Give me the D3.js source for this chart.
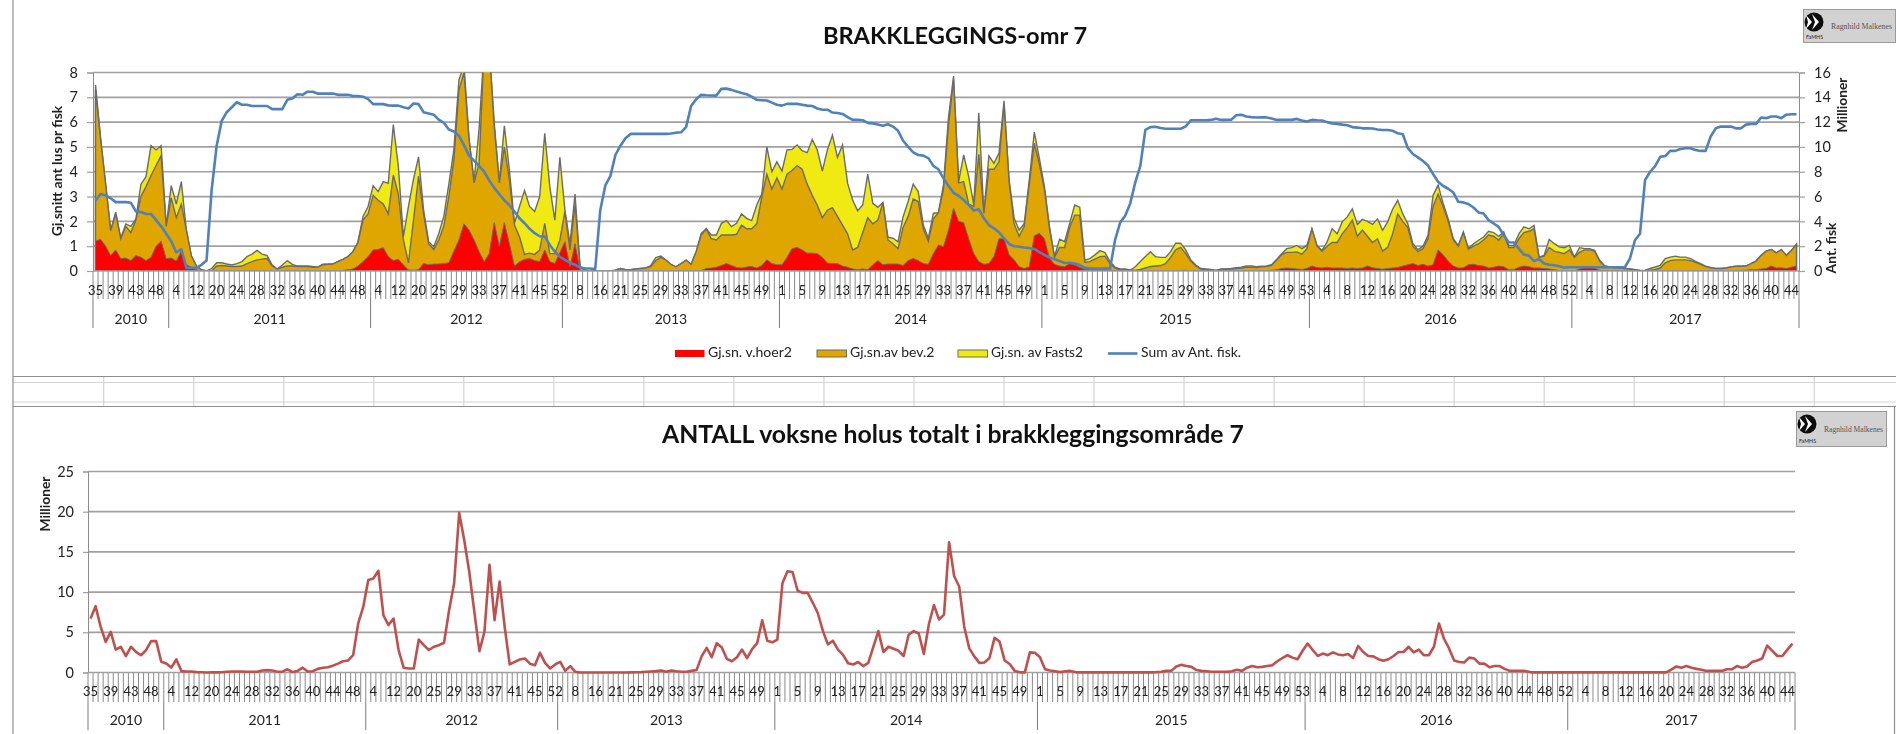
<!DOCTYPE html>
<html>
<head>
<meta charset="utf-8">
<script src="https://cdn.jsdelivr.net/npm/d3@7/dist/d3.min.js"></script>
<style>
  html, body { margin: 0; padding: 0; background: #fff; }
  svg { display: block; filter: blur(0.5px); }
  text { font-family: Lato, "Open Sans", sans-serif; fill: #222; }
</style>
</head>
<body>
<script>
// values, one per week, 338 weeks from 2010 week 35
var years = ['2010', '2011', '2012', '2013', '2014', '2015', '2016', '2017'];
var yearStarts = [0, 15, 55, 93, 136, 188, 241, 293];

// every 4th week carries a label
var weekLabels = [
  35, 39, 43, 48,
  4, 12, 20, 24, 28, 32, 36, 40, 44, 48,
  4, 12, 20, 25, 29, 33, 37, 41, 45, 52,
  8, 16, 21, 25, 29, 33, 37, 41, 45, 49,
  1, 5, 9, 13, 17, 21, 25, 29, 33, 37, 41, 45, 49,
  1, 5, 9, 13, 17, 21, 25, 29, 33, 37, 41, 45, 49, 53,
  4, 8, 12, 16, 20, 24, 28, 32, 36, 40, 44, 48, 52,
  4, 8, 12, 16, 20, 24, 28, 32, 36, 40, 44
];

// height of each outline in the lice chart
var vhoer = [
  1.2,1.28,1.0,.62,.85,.5,.52,.42,.62,.55,
  .42,.55,1.0,1.2,.5,.52,.4,.8,.25,.15,
  .05,0,0,0,0,0,0,0,0,0,
  0,0,0,0,.02,.02,0,0,.03,.02,
  0,0,.03,0,0,0,0,0,0,.02,
  .05,.08,.2,.38,.58,.85,.87,.94,.58,.42,
  .47,.24,.04,.03,.05,.3,.25,.28,.28,.3,
  .33,.8,1.25,1.9,1.65,1.25,.78,.37,.7,1.95,
  1.0,1.95,1.1,.2,.37,.47,.5,.42,.38,.85,
  .38,.3,.74,1.18,.17,1.1,.03,0,0,0,
  0,0,0,0,0,0,0,0,0,0,
  0,0,0,0,0,0,0,0,0,0,
  .02,.1,.12,.15,.22,.3,.22,.14,.12,.16,
  .18,.12,.22,.45,.3,.25,.25,.55,.9,.95,
  .85,.72,.72,.7,.55,.32,.3,.3,.2,.15,
  .08,.05,.08,.05,.25,.42,.25,.28,.28,.28,
  .22,.42,.5,.42,.3,.27,.7,1.05,.98,1.65,
  2.53,2.0,1.95,1.3,.7,.38,.27,.3,.58,1.3,
  1.3,.65,.45,.17,.1,.17,1.42,1.52,1.3,.5,
  .27,.2,.17,.3,.24,.15,.07,.05,.05,.05,
  .05,.03,.02,0,0,0,0,0,0,0,
  0,0,0,0,0,.02,.03,0,0,0,
  0,0,0,0,0,0,0,.02,.02,0,
  0,0,.02,.03,.05,.1,.12,.1,.08,.06,
  .1,.2,.14,.12,.15,.12,.12,.12,.1,.12,
  .1,.12,.2,.13,.1,.07,.1,.12,.14,.2,
  .25,.3,.22,.27,.2,.25,.85,.65,.4,.2,
  .12,.13,.25,.27,.22,.2,.12,.15,.2,.17,
  .05,.05,.15,.2,.17,.12,.12,.1,.08,.05,
  .02,0,0,0,.08,.15,.15,.12,.03,0,
  0,0,0,0,0,0,0,0,0,0,
  0,0,0,0,0,0,.02,.02,0,0,
  0,0,0,0,0,0,.02,.03,.05,.05,
  .08,.1,.2,.12,.13,.1,.15,.2
];

var bev = [
  7.3,5.3,3.5,1.63,2.3,1.3,1.8,1.55,2.05,3.0,
  3.4,3.85,4.25,4.65,1.8,2.95,2.15,2.7,1.65,.6,
  .2,.05,0,0,.2,.22,.2,.18,.18,.2,
  .3,.38,.45,.48,.5,.2,.08,.15,.2,.2,
  .18,.18,.18,.15,.15,.25,.27,.28,.38,.47,
  .58,.78,1.15,2.05,2.3,3.05,2.85,2.7,2.3,3.87,
  3.1,1.25,.33,2.05,3.83,2.3,1.1,.87,1.25,1.8,
  3.0,4.47,7.3,8.0,5.3,3.55,4.35,9,9,5.8,
  3.55,5.0,3.67,1.85,1.38,.67,.72,.67,.85,1.92,
  .7,.7,1.25,2.4,.85,2.7,.17,.03,0,0,
  0,0,0,.03,.1,.05,.05,.08,.1,.12,
  .18,.42,.55,.44,.27,.17,.3,.44,.27,.78,
  1.45,1.7,1.3,1.25,1.45,1.45,1.45,1.48,1.85,1.7,
  1.7,1.9,2.98,3.9,3.3,3.75,3.3,3.9,4.05,4.25,
  4.1,3.5,3.05,2.65,2.15,2.45,2.55,2.2,1.85,1.5,
  .85,.95,1.55,2.15,1.9,2.05,2.76,1.25,1.1,.9,
  1.75,2.2,2.9,2.8,1.7,1.2,2.1,2.35,3.3,5.9,
  7.7,3.55,3.6,2.7,2.6,4.7,2.33,4.1,4.1,4.4,
  6.7,3.6,1.9,1.4,1.8,3.5,5.15,4.3,3.3,1.7,
  .55,.95,.95,1.75,2.25,2.25,.35,.38,.48,.58,
  .6,.3,.12,.05,.05,.03,.03,.06,.12,.18,
  .2,.22,.3,.55,.85,.95,.7,.4,.2,.08,
  .06,.05,.02,.06,.07,.08,.1,.12,.15,.15,
  .14,.17,.18,.23,.44,.66,.75,.75,.77,.68,
  .9,1.7,1.0,.8,1.0,1.15,1.15,1.5,1.75,2.05,
  1.4,1.65,1.4,1.15,1.3,.8,.95,1.5,2.3,2.0,
  1.75,1.0,.78,.9,1.3,2.6,3.1,2.6,2.0,1.25,
  1.0,1.55,.88,1.0,1.1,1.25,1.45,1.4,1.25,1.5,
  .95,.95,1.3,1.55,1.6,1.7,.55,.6,.95,.8,
  .75,.7,.85,.55,.75,.85,.85,.8,.4,.2,
  .16,.14,.12,.1,.08,.05,.02,.01,.03,.06,
  .12,.33,.42,.45,.45,.45,.42,.35,.27,.18,
  .13,.1,.1,.12,.16,.19,.19,.2,.3,.4,
  .63,.8,.87,.73,.86,.63,.83,1.08
];

var fasts = [
  7.5,5.4,3.5,1.63,2.37,1.32,1.9,1.8,2.1,3.5,
  3.8,5.05,4.88,5.05,1.8,3.44,2.7,3.6,1.65,.6,
  .2,.05,0,.1,.33,.33,.28,.24,.3,.38,
  .58,.68,.83,.68,.62,.24,.08,.24,.42,.27,
  .2,.2,.2,.18,.15,.27,.27,.28,.38,.47,
  .58,.78,1.18,2.2,2.6,3.44,3.2,3.6,3.53,5.9,
  4.2,1.38,2.6,3.7,4.6,2.45,1.18,.98,1.5,2.2,
  3.5,4.9,7.7,8.3,5.35,3.6,5.75,9,9,5.95,
  3.55,5.85,4.07,1.92,2.6,3.24,2.6,2.4,3.0,5.55,
  3.4,2.05,4.58,2.45,1.1,3.1,.17,.03,0,0,
  0,0,0,.03,.1,.05,.05,.08,.1,.12,
  .22,.54,.6,.44,.27,.17,.3,.44,.27,.78,
  1.52,1.7,1.45,1.45,1.92,2.03,1.79,1.92,2.3,2.12,
  2.03,2.66,3.1,5.0,4.0,4.4,4.03,4.88,4.9,5.08,
  4.85,4.77,5.3,4.88,4.03,4.88,5.48,4.58,5.08,3.54,
  2.86,2.43,2.66,3.9,2.73,2.57,2.76,1.36,1.32,1.18,
  2.19,2.8,3.5,3.2,1.85,1.32,2.33,2.35,3.47,6.2,
  7.86,3.6,4.68,3.8,2.66,6.38,2.33,4.64,4.34,4.75,
  6.86,3.67,2.12,1.65,1.92,3.67,5.6,4.54,3.4,1.79,
  .58,1.28,1.18,1.92,2.66,2.57,.44,.5,.65,.82,
  .74,.38,.15,.08,.08,.04,.17,.38,.58,.78,
  .58,.55,.55,.78,1.12,1.12,.85,.44,.24,.1,
  .08,.06,.02,.08,.08,.1,.13,.15,.2,.2,
  .17,.19,.2,.25,.46,.7,.9,.94,1.03,.9,
  1.03,1.7,1.03,.83,1.17,1.7,1.5,1.98,2.18,2.5,
  1.88,2.08,2.0,1.88,2.1,1.64,1.98,2.5,2.85,2.3,
  1.9,1.1,.86,1.0,1.44,3.05,3.46,2.72,2.1,1.3,
  1.03,1.57,.9,1.1,1.24,1.37,1.6,1.55,1.4,1.57,
  1.03,1.03,1.5,1.78,1.7,1.84,.56,.63,1.27,1.1,
  .97,.94,1.03,.56,.94,.9,.9,.83,.43,.2,
  .16,.14,.12,.1,.08,.05,.02,.03,.1,.16,
  .23,.5,.56,.6,.56,.56,.5,.39,.3,.2,
  .13,.1,.1,.12,.16,.19,.19,.2,.3,.4,
  .63,.8,.87,.73,.86,.63,.83,1.08
];

// millions of fish, right axis
var antFisk = [
  5.67,6.2,6.1,5.86,5.55,5.55,5.55,5.5,4.8,4.75,
  4.6,4.6,4.1,3.6,3.0,2.4,1.5,1.75,.25,.25,
  .25,.5,.85,6.5,10.1,12.1,12.8,13.2,13.6,13.4,
  13.4,13.3,13.3,13.3,13.3,13.05,13.05,13.05,13.8,13.9,
  14.25,14.2,14.45,14.45,14.3,14.3,14.3,14.3,14.2,14.2,
  14.2,14.1,14.1,14.05,13.85,13.45,13.45,13.45,13.35,13.33,
  13.33,13.2,13.1,13.5,13.45,12.8,12.7,12.6,12.2,11.95,
  11.4,11.25,10.9,10.15,9.3,8.9,8.47,8.0,7.3,6.7,
  6.2,5.7,5.3,4.8,4.25,3.85,3.4,3.05,2.8,2.77,
  2.1,1.55,1.15,.9,.67,.5,.3,.2,.2,.15,
  4.9,6.9,7.65,9.35,10.1,10.7,11.05,11.05,11.05,11.05,
  11.05,11.05,11.05,11.05,11.08,11.15,11.18,11.6,13.3,13.85,
  14.2,14.17,14.15,14.14,14.68,14.7,14.6,14.47,14.35,14.25,
  14.06,13.8,13.76,13.74,13.57,13.4,13.33,13.47,13.47,13.47,
  13.4,13.33,13.3,13.1,13.0,13.0,12.77,12.74,12.66,12.4,
  12.18,12.18,12.15,11.94,11.9,11.8,11.7,11.83,11.64,11.3,
  10.5,10.0,9.57,9.35,9.3,9.1,8.47,8.2,7.47,6.85,
  6.3,6.05,5.72,5.32,4.87,4.97,4.25,3.7,3.44,3.12,
  2.63,2.18,2.0,1.96,1.9,1.85,1.78,1.53,1.3,1.08,
  .94,.8,.65,.67,.6,.48,.27,.2,.2,.2,
  .2,.2,2.5,3.9,4.45,5.45,7.15,8.47,11.37,11.6,
  11.63,11.53,11.47,11.47,11.47,11.47,11.66,12.15,12.15,12.15,
  12.15,12.18,12.28,12.18,12.18,12.2,12.55,12.6,12.45,12.4,
  12.37,12.38,12.38,12.3,12.18,12.18,12.18,12.18,12.26,12.13,
  12.05,12.18,12.15,12.13,12.0,11.9,11.86,11.8,11.75,11.6,
  11.56,11.5,11.5,11.48,11.4,11.37,11.37,11.3,11.1,11.02,
  9.9,9.43,9.16,8.87,8.5,7.82,7.2,6.85,6.63,6.33,
  5.58,5.53,5.4,5.12,4.72,4.64,4.1,3.83,3.56,2.88,
  2.32,2.3,1.8,1.32,1.24,.8,.97,.6,.5,.46,
  .38,.27,.3,.3,.3,.3,.3,.3,.3,.3,
  .3,.3,.3,.3,1.0,2.48,3.0,7.33,8.0,8.46,
  9.2,9.27,9.68,9.68,9.84,9.9,9.9,9.76,9.68,9.68,
  10.84,11.5,11.64,11.64,11.64,11.5,11.5,11.8,11.86,11.86,
  12.37,12.32,12.45,12.45,12.32,12.6,12.64,12.64
];

// millions of adult female lice, lower chart
var holus = [
  6.7,8.25,5.7,3.8,5.05,2.85,3.2,2.03,3.2,2.57,
  2.15,2.78,3.9,3.9,1.33,1.12,.62,1.62,.17,.12,
  .12,.05,.03,0,.02,.02,.03,.1,.12,.12,
  .12,.1,.1,.1,.25,.3,.25,.1,.1,.4,
  .05,.2,.6,.12,.15,.45,.6,.65,.85,1.1,
  1.4,1.5,2.15,6.1,8.15,11.5,11.7,12.65,7.1,5.9,
  6.7,2.8,.6,.5,.5,4.1,3.4,2.8,3.2,3.4,
  3.7,7.75,11.1,19.85,16.45,12.5,7.55,2.65,5.05,13.4,
  6.5,11.3,5.7,1.0,1.33,1.62,1.75,1.1,.9,2.45,
  1.2,.5,1.0,1.33,.2,.8,.08,0,0,0,
  0,0,0,0,0,0,0,.02,.03,.05,
  .1,.13,.17,.25,.1,.25,.15,.1,.1,.2,
  .3,2.0,3.07,1.9,3.65,3.1,1.7,1.4,1.9,2.85,
  1.8,2.9,3.65,6.5,3.95,3.75,4.1,11.1,12.6,12.5,
  10.2,9.9,9.9,8.7,7.4,5.2,3.5,3.95,2.85,2.2,
  1.15,1.0,1.3,.8,1.2,3.2,5.15,2.55,3.2,2.95,
  2.7,2.05,4.7,5.15,4.85,2.3,6.0,8.4,6.6,7.2,
  16.2,12.0,10.7,5.7,3.0,2.0,1.2,1.25,1.8,4.3,
  3.85,1.5,1.05,.2,.02,.02,2.5,2.45,1.9,.4,
  .25,.15,.05,.15,.2,.05,.02,.02,.02,.02,
  .02,.02,.02,.02,.02,.02,.02,.02,.02,.02,
  .02,.05,.1,.2,.2,.75,.95,.8,.7,.3,
  .2,.15,.1,.1,.1,.08,.15,.33,.2,.6,
  .8,.65,.7,.8,.9,1.4,1.8,2.15,1.85,1.65,
  2.7,3.6,2.8,2.05,2.35,2.15,2.5,2.25,2.15,2.3,
  1.8,3.3,2.55,2.05,2.0,1.65,1.45,1.65,2.05,2.55,
  2.55,3.2,2.5,2.85,2.15,2.15,3.2,6.1,4.2,3.0,
  1.5,1.3,1.25,1.85,1.75,1.1,1.1,.65,.8,.8,
  .45,.2,.2,.2,.2,.05,.02,.02,.02,.02,
  .02,.02,.02,.02,.02,.02,.02,.02,.02,.02,
  .02,.02,.02,.02,.02,.02,.02,.02,.02,.02,
  .02,.02,.02,.35,.75,.6,.8,.6,.45,.35,
  .2,.2,.2,.2,.4,.4,.8,.6,.75,1.3,
  1.5,1.75,3.35,2.7,2.05,2.05,2.85,3.6
];

var leftTicks = [0, 1, 2, 3, 4, 5, 6, 7, 8];
var rightTicks = [0, 2, 4, 6, 8, 10, 12, 14, 16];
var lowerTicks = [0, 5, 10, 15, 20, 25];

var legendNames = ['Gj.sn. v.hoer2', 'Gj.sn.av bev.2', 'Gj.sn. av Fasts2', 'Sum av Ant. fisk.'];

var gridColor = '#a0a0a0';
var axisColor = '#8c8c8c';
var areaLine = '#6b6b6b';

var svg = d3.select('body').append('svg')
  .attr('width', 1896)
  .attr('height', 734);

var weeks = d3.range(holus.length);

function centerX(x) {
  return function(i) {
    return x(i) + x.bandwidth() / 2;
  };
}

function drawFrame() {
  var g = svg.append('g');
  // the sheet cells that show between the two charts
  g.selectAll('line.cell')
    .data(d3.range(0, 20))
    .enter().append('line')
    .attr('x1', function(d) { return 103.7 + d * 90.03; })
    .attr('x2', function(d) { return 103.7 + d * 90.03; })
    .attr('y1', 377)
    .attr('y2', 406)
    .attr('stroke', '#d4d4d4')
    .attr('stroke-width', 1.2);
  [382.5, 402].forEach(function(y) {
    g.append('line').attr('x1', 13).attr('x2', 1896).attr('y1', y).attr('y2', y)
      .attr('stroke', '#d4d4d4').attr('stroke-width', 1.2);
  });
  [376.5, 406.5].forEach(function(y) {
    g.append('line').attr('x1', 13).attr('x2', 1896).attr('y1', y).attr('y2', y)
      .attr('stroke', '#8f8f8f').attr('stroke-width', 1.2);
  });
  g.append('line').attr('x1', 13).attr('x2', 13).attr('y1', 0).attr('y2', 734)
    .attr('stroke', '#8f8f8f').attr('stroke-width', 1.2);
  g.append('line').attr('x1', 1894.5).attr('x2', 1894.5).attr('y1', 406).attr('y2', 734)
    .attr('stroke', '#8f8f8f').attr('stroke-width', 1.2);
}

function drawLogo(x, y, w, h) {
  var g = svg.append('g').attr('transform', 'translate(' + x + ',' + y + ')');
  g.append('rect')
    .attr('x', 0.5).attr('y', 0.5).attr('width', w).attr('height', h)
    .attr('fill', '#d2d2d2').attr('stroke', '#9a9a9a').attr('stroke-width', 1);
  g.append('circle').attr('cx', 11).attr('cy', 13).attr('r', 9.5).attr('fill', '#0c0c0c');
  g.append('path').attr('d', 'M3,6 L9,13 L3,20 L5,13 Z').attr('fill', '#fff');
  g.append('path').attr('d', 'M9,5 L16,13 L9,21 L12,13 Z').attr('fill', '#fff');
  g.append('text')
    .attr('x', 3).attr('y', h - 3)
    .attr('font-size', 6.5)
    .attr('textLength', 17)
    .attr('lengthAdjust', 'spacingAndGlyphs')
    .text('FaMHS');
  g.append('text')
    .attr('x', 28).attr('y', h / 2 + 3)
    .attr('font-size', 8.5)
    .attr('textLength', w - 31)
    .attr('lengthAdjust', 'spacingAndGlyphs')
    .style('font-family', '"Liberation Serif", serif')
    .style('fill', '#555')
    .text('Ragnhild Malkenes');
}

// week ticks, week labels and the year row under a plot
function drawCategoryAxis(x, y0, tickEnd, labelY, yearEnd, yearY) {
  var g = svg.append('g');
  var left = x.range()[0];
  var right = x.range()[1];
  g.selectAll('line.week')
    .data(weeks.concat([weeks.length]))
    .enter().append('line')
    .attr('x1', function(d) { return d < weeks.length ? x(d) : right; })
    .attr('x2', function(d) { return d < weeks.length ? x(d) : right; })
    .attr('y1', y0)
    .attr('y2', tickEnd)
    .attr('stroke', '#8a8a8a')
    .attr('stroke-width', 1);

  g.selectAll('text.week')
    .data(weekLabels)
    .enter().append('text')
    .attr('x', function(d, i) { return centerX(x)(i * 4); })
    .attr('y', labelY)
    .attr('text-anchor', 'middle')
    .attr('dy', '0.35em')
    .attr('font-size', 13)
    .text(function(d) { return d; });

  var edges = yearStarts.map(function(d) { return x(d); }).concat([right]);
  g.selectAll('line.year')
    .data(edges)
    .enter().append('line')
    .attr('x1', function(d) { return d; })
    .attr('x2', function(d) { return d; })
    .attr('y1', tickEnd)
    .attr('y2', yearEnd)
    .attr('stroke', '#7a7a7a')
    .attr('stroke-width', 1);

  g.selectAll('text.year')
    .data(years)
    .enter().append('text')
    .attr('x', function(d, i) { return (edges[i] + edges[i + 1]) / 2; })
    .attr('y', yearY)
    .attr('text-anchor', 'middle')
    .attr('dy', '0.35em')
    .attr('font-size', 14)
    .text(function(d) { return d; });

  g.append('line').attr('x1', left).attr('x2', right).attr('y1', y0).attr('y2', y0)
    .attr('stroke', gridColor).attr('stroke-width', 1.4);
}

function styleAxis(g, width) {
  g.select('.domain').attr('stroke', axisColor).attr('stroke-width', 1);
  g.selectAll('.tick line').attr('stroke', gridColor).attr('stroke-width', width);
  g.selectAll('.tick text').attr('font-size', 14.5).attr('fill', '#222')
    .style('font-family', 'Lato, sans-serif');
}

function drawGrid(x, y, ticks) {
  svg.append('g')
    .selectAll('line')
    .data(ticks.slice(1))
    .enter().append('line')
    .attr('x1', x.range()[0])
    .attr('x2', x.range()[1])
    .attr('y1', function(d) { return y(d); })
    .attr('y2', function(d) { return y(d); })
    .attr('stroke', gridColor)
    .attr('stroke-width', 1.7);
}

function rotatedLabel(x, y, txt, size) {
  svg.append('text')
    .attr('transform', 'translate(' + x + ',' + y + ') rotate(-90)')
    .attr('text-anchor', 'middle')
    .attr('dy', '0.35em')
    .attr('font-size', size)
    .attr('font-weight', 700)
    .text(txt);
}

function drawLiceChart() {
  var x = d3.scaleBand().domain(weeks).range([93, 1799]);
  var cx = centerX(x);
  var yLeft = d3.scaleLinear().domain([0, 8]).range([271, 72.5]);
  var yRight = d3.scaleLinear().domain([0, 16]).range([271, 72.5]);

  svg.append('text')
    .attr('x', 955).attr('y', 36)
    .attr('text-anchor', 'middle')
    .attr('dy', '0.35em')
    .attr('font-size', 23.6)
    .attr('font-weight', 700)
    .style('fill', '#111')
    .text('BRAKKLEGGINGS-omr 7');

  drawGrid(x, yLeft, leftTicks);

  svg.append('defs').append('clipPath').attr('id', 'liceClip')
    .append('rect')
    .attr('x', 93).attr('y', 72.5)
    .attr('width', 1706).attr('height', 198.5);

  var plot = svg.append('g').attr('clip-path', 'url(#liceClip)');
  var area = d3.area()
    .x(function(d, i) { return cx(i); })
    .y0(yLeft(0))
    .y1(function(d) { return yLeft(d); });

  plot.append('path').datum(fasts).attr('d', area)
    .attr('fill', '#f0ea12').attr('stroke', areaLine).attr('stroke-width', 1.4);
  plot.append('path').datum(bev).attr('d', area)
    .attr('fill', '#dfa600').attr('stroke', areaLine).attr('stroke-width', 1.4);
  plot.append('path').datum(vhoer).attr('d', area)
    .attr('fill', '#fe0000').attr('stroke', areaLine).attr('stroke-width', 1);

  var gl = svg.append('g')
    .attr('transform', 'translate(93,0)')
    .call(d3.axisLeft(yLeft).tickValues(leftTicks).tickSize(6).tickPadding(9));
  styleAxis(gl, 1.2);

  var gr = svg.append('g')
    .attr('transform', 'translate(1799,0)')
    .call(d3.axisRight(yRight).tickValues(rightTicks).tickSize(6).tickPadding(9));
  styleAxis(gr, 1.2);

  drawCategoryAxis(x, 271, 299, 290, 328, 319);

  var line = d3.line()
    .x(function(d, i) { return cx(i); })
    .y(function(d) { return yRight(d); });
  svg.append('path').datum(antFisk).attr('d', line)
    .attr('fill', 'none')
    .attr('stroke', '#4f81bd')
    .attr('stroke-width', 2.6)
    .attr('stroke-linejoin', 'round');

  rotatedLabel(57, 171, 'Gj.snitt ant lus pr fisk', 14);
  rotatedLabel(1842.5, 105, 'Millioner', 13.8);
  rotatedLabel(1831.5, 248, 'Ant. fisk', 13.8);

  // legend
  var legendX = [675, 817, 958, 1108];
  var legendTextW = [84, 84.5, 92, 100];
  var legendW = 29.5;
  var legendFill = ['#fe0000', '#dfa600', '#f0ea12'];
  var lg = svg.append('g');
  legendFill.forEach(function(c, i) {
    lg.append('rect')
      .attr('x', legendX[i]).attr('y', 350)
      .attr('width', legendW).attr('height', 7)
      .attr('fill', c)
      .attr('stroke', i === 0 ? 'none' : areaLine)
      .attr('stroke-width', 1);
  });
  lg.append('line')
    .attr('x1', legendX[3]).attr('x2', legendX[3] + legendW)
    .attr('y1', 353.5).attr('y2', 353.5)
    .attr('stroke', '#4f81bd').attr('stroke-width', 2.6);
  lg.selectAll('text')
    .data(legendNames)
    .enter().append('text')
    .attr('x', function(d, i) { return legendX[i] + legendW + 3.5; })
    .attr('y', 352.5)
    .attr('dy', '0.35em')
    .attr('font-size', 13.5)
    .attr('textLength', function(d, i) { return legendTextW[i]; })
    .attr('lengthAdjust', 'spacingAndGlyphs')
    .text(function(d) { return d; });
}

function drawHolusChart() {
  var x = d3.scaleBand().domain(weeks).range([88, 1795]);
  var cx = centerX(x);
  var y = d3.scaleLinear().domain([0, 25]).range([672.5, 471.5]);

  svg.append('text')
    .attr('x', 953).attr('y', 434)
    .attr('text-anchor', 'middle')
    .attr('dy', '0.35em')
    .attr('font-size', 24.8)
    .attr('font-weight', 700)
    .style('fill', '#111')
    .text('ANTALL voksne holus totalt i brakkleggingsområde 7');

  drawGrid(x, y, lowerTicks);

  var gl = svg.append('g')
    .attr('transform', 'translate(88,0)')
    .call(d3.axisLeft(y).tickValues(lowerTicks).tickSize(5).tickPadding(9));
  styleAxis(gl, 1.2);

  drawCategoryAxis(x, 672.5, 702, 691, 730, 720.5);

  var line = d3.line()
    .x(function(d, i) { return cx(i); })
    .y(function(d) { return y(d); });
  svg.append('path').datum(holus).attr('d', line)
    .attr('fill', 'none')
    .attr('stroke', '#c0504d')
    .attr('stroke-width', 2.6)
    .attr('stroke-linejoin', 'round');

  rotatedLabel(45, 504, 'Millioner', 13.8);
}

drawFrame();
drawLiceChart();
drawHolusChart();
drawLogo(1803, 9, 92, 33);
drawLogo(1796, 411, 90, 35);

// lengths of the weekly arrays have to agree
[vhoer, bev, fasts, antFisk, holus].forEach(function(a) {
  if (a.length !== 338) {
    throw new Error('series length ' + a.length);
  }
});
</script>
</body>
</html>
